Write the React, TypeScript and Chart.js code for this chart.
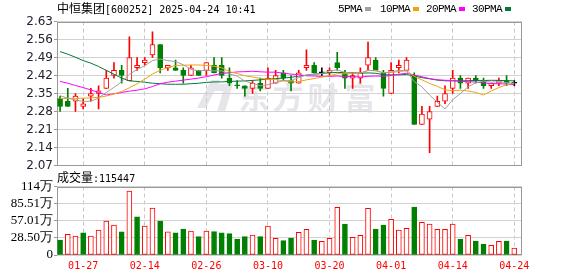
import React, { useEffect, useRef } from 'react';
import { Chart, registerables } from 'chart.js';

Chart.register(...registerables);

// ---------------- data ----------------
const dates = ['01-22','01-23','01-24','01-27','02-05','02-06','02-07','02-10','02-11','02-12','02-13','02-14','02-17','02-18','02-19','02-20','02-21','02-24','02-25','02-26','02-27','02-28','03-03','03-04','03-05','03-06','03-07','03-10','03-11','03-12','03-13','03-14','03-17','03-18','03-19','03-20','03-21','03-24','03-25','03-26','03-27','03-28','03-31','04-01','04-02','04-03','04-07','04-08','04-09','04-10','04-11','04-14','04-15','04-16','04-17','04-18','04-21','04-22','04-23','04-24'];

const labelDates = ['01-27','02-14','02-26','03-10','03-20','04-01','04-14','04-24'];

const opens = [2.33,2.32,2.32,2.30,2.34,2.35,2.37,2.42,2.44,2.40, 2.45,2.47,2.50,2.54,2.45,2.45,2.44,2.42,2.44,2.44, 2.46,2.46,2.41,2.38,2.38,2.37,2.39,2.37,2.39,2.43, 2.40,2.39,2.45,2.46,2.43,2.43,2.47,2.43,2.41,2.41, 2.46,2.48,2.43,2.35,2.45,2.44,2.42,2.23,2.25,2.30, 2.32,2.37,2.41,2.39,2.41,2.40,2.38,2.39,2.40,2.39];
const highs = [2.34,2.37,2.35,2.33,2.37,2.38,2.44,2.47,2.46,2.57, 2.49,2.49,2.59,2.54,2.46,2.48,2.45,2.46,2.44,2.47, 2.49,2.49,2.45,2.40,2.38,2.40,2.41,2.45,2.44,2.44, 2.42,2.44,2.52,2.47,2.45,2.45,2.51,2.44,2.43,2.45, 2.55,2.49,2.44,2.47,2.48,2.49,2.43,2.30,2.30,2.34, 2.38,2.44,2.42,2.41,2.42,2.41,2.39,2.41,2.42,2.40];
const lows = [2.28,2.30,2.28,2.29,2.32,2.29,2.37,2.41,2.39,2.40, 2.44,2.46,2.49,2.43,2.44,2.44,2.39,2.42,2.42,2.42, 2.43,2.41,2.38,2.37,2.34,2.35,2.36,2.37,2.39,2.40, 2.36,2.39,2.44,2.43,2.42,2.42,2.44,2.37,2.37,2.39, 2.44,2.44,2.34,2.35,2.43,2.44,2.23,2.23,2.12,2.30, 2.31,2.35,2.37,2.37,2.39,2.37,2.37,2.38,2.38,2.38];
const closes = [2.30,2.30,2.34,2.31,2.35,2.36,2.41,2.44,2.42,2.49, 2.46,2.48,2.54,2.45,2.46,2.44,2.42,2.45,2.42,2.47, 2.43,2.42,2.39,2.38,2.37,2.39,2.37,2.41,2.42,2.41, 2.39,2.43,2.46,2.43,2.43,2.44,2.45,2.41,2.42,2.43, 2.49,2.44,2.37,2.44,2.46,2.48,2.23,2.27,2.28,2.32, 2.35,2.41,2.39,2.41,2.40,2.38,2.39,2.40,2.39,2.39];

// volume in 万股
const volumes = [25,34.4,31.6,37,31.6,41.6,56.6,50,38.5,106.5, 63.7,48.3,78,56.6,38.5,37,43.3,40,30.5,40, 38.8,37,35.5,26.6,30.5,33.3,30.5,48,27.8,23.8, 28.3,37.8,42.7,25,22.8,27.8,79.4,51.6,29.4,32.8, 77.7,43.3,50,59.4,41.6,44.4,79.9,54.4,51.6,42.7, 42.7,51.6,26.6,32.8,23.3,18.3,16.1,22.8,23.3,11.5447];
const volumeUp = [0,1,1,0,1,1,1,1,0,1, 0,1,1,0,1,0,0,1,0,1, 0,0,0,0,0,1,0,1,1,0, 0,1,1,0,1,1,1,0,1,1, 1,0,0,1,1,1,0,1,1,1, 1,1,0,1,0,0,1,1,0,1];

// moving-average values before enough in-window history exists
const ma5Head = [2.341, 2.332, 2.325, 2.319];
const ma10Head = [2.330, 2.331, 2.331, 2.332, 2.333, 2.335, 2.340, 2.348, 2.358];
const ma20Head = [2.397, 2.390, 2.381, 2.373, 2.364, 2.354, 2.344, 2.349, 2.354, 2.359, 2.363, 2.368, 2.377, 2.388, 2.394, 2.398, 2.402, 2.406, 2.410];
const ma30Head = [2.513, 2.503, 2.491, 2.478, 2.468, 2.455, 2.440, 2.425, 2.410, 2.399, 2.397, 2.394, 2.390, 2.388, 2.386, 2.386, 2.386, 2.388, 2.390, 2.393, 2.395, 2.395, 2.397, 2.398, 2.399, 2.401, 2.403, 2.406, 2.408];

const priceTicks = [2.07, 2.14, 2.21, 2.28, 2.35, 2.42, 2.49, 2.56, 2.63];
const priceTickLabels = ['2.07', '2.14', '2.21', '2.28', '2.35', '2.42', '2.49', '2.56', '2.63'];
const volTicks = [0, 28.505, 57.01, 85.515, 114.02];
const volTickLabels = ['0', '28.50万', '57.01万', '85.51万', '114万'];

const maNames = ['5PMA', '10PMA', '20PMA', '30PMA'];
const maColors = ['#a0a0a0', '#f2a20c', '#ff00ff', '#007a3d'];

// ---------------- helpers ----------------
const RED = '#ff0000';
const GREEN = '#008000';

function movingAverage(n: number, head: number[]) {
  return closes.map((_, i) => {
    if (i < n - 1) return head[i];
    let s = 0;
    for (let k = i - n + 1; k <= i; k++) s += closes[k];
    return s / n;
  });
}

const labelIdx = labelDates.map((d) => dates.indexOf(d));
const kinds = closes.map((c, i) => {
  if (c > opens[i]) return 'up';
  if (c < opens[i]) return 'down';
  if (i > 0 && c > closes[i - 1]) return 'up';
  if (i > 0 && c < closes[i - 1]) return 'down';
  return 'flat';
});
const kindColor = (k: string) => (k === 'up' ? RED : k === 'down' ? GREEN : '#000000');

const xScale = (showLabels: boolean) => ({
  type: 'linear' as const,
  min: -0.4,
  max: 60,
  offset: false,
  afterBuildTicks: (s: any) => {
    s.ticks = labelIdx.map((v) => ({ value: v }));
  },
  afterFit: (s: any) => {
    s.height = showLabels ? 21 : 0;
  },
  grid: { color: '#c8c8c8', lineWidth: 1, drawTicks: false, offset: false },
  border: { display: false, dash: [4, 3] },
  ticks: {
    display: showLabels,
    autoSkip: false,
    maxRotation: 0,
    padding: 5,
    color: RED,
    font: { family: 'DejaVu Sans Mono', size: 10 },
    callback: (v: any) => dates[v] ?? '',
  },
});

const framePlugin = {
  id: 'frame',
  beforeDatasetsDraw(chart: any) {
    const { ctx, chartArea } = chart;
    ctx.save();
    ctx.strokeStyle = '#999999';
    ctx.lineWidth = 1;
    const l = Math.round(chartArea.left) + 0.5;
    const t = Math.round(chartArea.top) + 0.5;
    const r = Math.round(chartArea.right) - 0.5;
    const b = Math.round(chartArea.bottom) - 0.5;
    ctx.strokeRect(l, t, r - l, b - t);
    ctx.restore();
  },
};

const watermarkPlugin = {
  id: 'watermark',
  beforeDraw(chart: any) {
    const { ctx } = chart;
    ctx.save();
    ctx.fillStyle = '#e6e6ea';
    // simple logo mark
    ctx.beginPath();
    ctx.moveTo(197, 108);
    ctx.lineTo(211, 80);
    ctx.lineTo(220, 80);
    ctx.lineTo(206, 108);
    ctx.closePath();
    ctx.fill();
    ctx.beginPath();
    ctx.moveTo(214, 84);
    ctx.lineTo(233, 84);
    ctx.lineTo(225, 112);
    ctx.lineTo(217, 112);
    ctx.lineTo(223, 91);
    ctx.lineTo(212, 91);
    ctx.closePath();
    ctx.fill();
    ctx.font = 'bold 31px "Noto Sans CJK SC"';
    ctx.textAlign = 'center';
    ctx.textBaseline = 'middle';
    const chars = ['东', '方', '财', '富'];
    const cx = [254, 288, 323, 360];
    chars.forEach((c, i) => ctx.fillText(c, cx[i], 97));
    ctx.restore();
  },
};

export default function App() {
  const priceRef = useRef<HTMLCanvasElement>(null);
  const volRef = useRef<HTMLCanvasElement>(null);

  useEffect(() => {
    const idx = dates.map((_, i) => i);
    const mas = [movingAverage(5, ma5Head), movingAverage(10, ma10Head), movingAverage(20, ma20Head), movingAverage(30, ma30Head)];

    const priceChart = new Chart(priceRef.current as HTMLCanvasElement, {
      type: 'bar',
      data: {
        datasets: [
          ...mas.map((m, k) => ({
            type: 'line' as const,
            label: maNames[k],
            data: m.map((v, i) => ({ x: i, y: v })),
            borderColor: maColors[k],
            borderWidth: 1,
            pointRadius: 0,
            tension: 0,
            order: 0,
          })),
          {
            type: 'bar' as const,
            label: 'body',
            data: idx.map((i) => ({ x: i, y: [opens[i], closes[i]] })) as any,
            backgroundColor: idx.map((i) => (kinds[i] === 'up' ? '#ffffff' : kindColor(kinds[i]))),
            borderColor: idx.map((i) => kindColor(kinds[i])),
            borderWidth: 1,
            borderSkipped: false,
            barThickness: 5,
            minBarLength: 1,
            grouped: false,
            order: 5,
          },
          {
            type: 'bar' as const,
            label: 'wick',
            data: idx.map((i) => ({ x: i, y: [lows[i], highs[i]] })) as any,
            backgroundColor: idx.map((i) => kindColor(kinds[i])),
            borderWidth: 0,
            barThickness: 1,
            grouped: false,
            order: 6,
          },
        ],
      },
      options: {
        responsive: false,
        animation: false,
        events: [],
        layout: { padding: { left: 0, right: 56, top: 21.5, bottom: 12.5 } },
        plugins: { legend: { display: false }, tooltip: { enabled: false } },
        scales: {
          x: xScale(false) as any,
          y: {
            type: 'linear',
            min: 2.07,
            max: 2.63,
            afterBuildTicks: (s: any) => {
              s.ticks = priceTicks.map((v) => ({ value: v }));
            },
            afterFit: (s: any) => {
              s.width = 57;
            },
            grid: { color: '#d2d2d2', drawTicks: true, tickLength: 3, tickColor: '#999999' },
            border: { display: false },
            ticks: {
              autoSkip: false,
              padding: 1,
              color: '#222233',
              font: { family: 'DejaVu Sans', size: 12 },
              callback: (_v: any, i: number) => priceTickLabels[i],
            },
          } as any,
        },
      },
      plugins: [watermarkPlugin, framePlugin],
    });

    const volChart = new Chart(volRef.current as HTMLCanvasElement, {
      type: 'bar',
      data: {
        datasets: [
          {
            label: '成交量',
            data: idx.map((i) => ({ x: i, y: volumes[i] })) as any,
            backgroundColor: idx.map((i) => (volumeUp[i] ? '#ffffff' : GREEN)),
            borderColor: idx.map((i) => (volumeUp[i] ? RED : GREEN)),
            borderWidth: 1,
            borderSkipped: false,
            barThickness: 5,
            grouped: false,
          },
        ],
      },
      options: {
        responsive: false,
        animation: false,
        events: [],
        layout: { padding: { left: 0, right: 56, top: 14.5, bottom: 0 } },
        plugins: { legend: { display: false }, tooltip: { enabled: false } },
        scales: {
          x: xScale(true) as any,
          y: {
            type: 'linear',
            min: 0,
            max: 114.02,
            afterBuildTicks: (s: any) => {
              s.ticks = volTicks.map((v) => ({ value: v }));
            },
            afterFit: (s: any) => {
              s.width = 57;
            },
            grid: { color: '#d2d2d2', drawTicks: true, tickLength: 3, tickColor: '#999999' },
            border: { display: false },
            ticks: {
              autoSkip: false,
              padding: 1,
              color: '#000000',
              font: { family: 'Liberation Serif', size: 13 },
              callback: (_v: any, i: number) => volTickLabels[i],
            },
          } as any,
        },
      },
      plugins: [framePlugin],
    });

    return () => {
      priceChart.destroy();
      volChart.destroy();
    };
  }, []);

  const mono = '"DejaVu Sans Mono", monospace';
  const cjk = '"Noto Sans CJK SC", sans-serif';
  const legendX = [338, 380, 426, 472];
  const squareX = [365, 413, 459, 505];

  return (
    <div style={{ position: 'fixed', left: 0, top: 0, width: 578, height: 276, background: '#ffffff', overflow: 'hidden' }}>
      <canvas ref={priceRef} width={578} height={178} style={{ position: 'absolute', left: 0, top: 0, display: 'block' }} />
      <canvas ref={volRef} width={578} height={104} style={{ position: 'absolute', left: 0, top: 172, display: 'block' }} />
      <div style={{ position: 'absolute', left: 57, top: 0, height: 16, lineHeight: '16px', whiteSpace: 'nowrap', color: '#000' }}>
        <span style={{ fontFamily: cjk, fontSize: 12 }}>中恒集团</span>
        <span style={{ fontFamily: mono, fontSize: 10 }}>[600252] 2025-04-24 10:41</span>
      </div>
      {maNames.map((n, k) => (
        <React.Fragment key={n}>
          <div style={{ position: 'absolute', left: legendX[k], top: 1, height: 16, lineHeight: '16px', fontFamily: '"Liberation Mono", monospace', fontSize: 11, letterSpacing: '-0.6px', color: '#000', whiteSpace: 'nowrap' }}>{n}</div>
          <div style={{ position: 'absolute', left: squareX[k], top: 7, width: 6, height: 4, background: maColors[k] }} />
        </React.Fragment>
      ))}
      <div style={{ position: 'absolute', left: 57, top: 169, height: 16, lineHeight: '16px', whiteSpace: 'nowrap', color: '#000' }}>
        <span style={{ fontFamily: cjk, fontSize: 12 }}>成交量</span>
        <span style={{ fontFamily: mono, fontSize: 10 }}>:115447</span>
      </div>
    </div>
  );
}
